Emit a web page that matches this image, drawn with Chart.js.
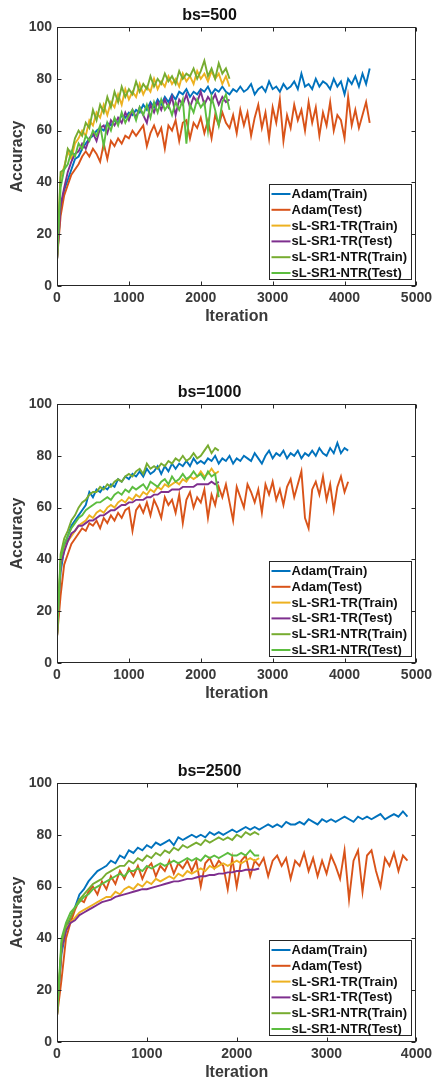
<!DOCTYPE html>
<html>
<head>
<meta charset="utf-8">
<script src="https://cdn.jsdelivr.net/npm/chart.js@4.4.0/dist/chart.umd.min.js"></script>
<style>
  html, body { margin: 0; padding: 0; background: #fff; }
  #wrap { position: relative; width: 436px; height: 1083px; }
  #wrap canvas { position: absolute; left: 0; }
</style>
</head>
<body>
<div id="wrap">
  <canvas id="chart500" width="436" height="326" style="top:0"></canvas>
  <canvas id="chart1000" width="436" height="326" style="top:377px"></canvas>
  <canvas id="chart2500" width="436" height="326" style="top:756px"></canvas>
</div>
<script>
// series names, tick labels
const seriesNames = ['Adam(Train)', 'Adam(Test)', 'sL-SR1-TR(Train)', 'sL-SR1-TR(Test)', 'sL-SR1-NTR(Train)', 'sL-SR1-NTR(Test)'];
const yTicks = [0, 20, 40, 60, 80, 100];
const xTicks5000 = [0, 1000, 2000, 3000, 4000, 5000];
const xTicks4000 = [0, 1000, 2000, 3000, 4000];
const iterStep = 50; // one value every 50 iterations

// bs=500
const adamTrain500 = [10,30,37,41,45,49,50,53,55,57,
  58,60,61,60,63,62,64,63,66,65,
  67,66,68,67,70,68,71,69,72,70,
  73,71,74,72,75,74,76,73,75,74,
  76,75,77,74,76,75,77,75,74,76,
  75,77,75,76,78,74,76,77,75,79,
  76,77,75,78,76,77,79,76,82,77,
  78,76,80,77,79,78,76,80,77,79,
  74,80,78,81,77,82,78,84];
const adamTest500 = [10,27,35,39,43,45,47,50,52,50,
  53,51,48,55,49,56,54,57,55,58,
  57,60,58,60,62,54,59,62,58,61,
  53,62,60,64,56,63,64,57,63,61,
  65,59,64,57,66,62,67,63,61,66,
  59,68,62,67,58,65,70,61,67,57,
  69,63,72,56,66,61,70,64,68,60,
  71,63,69,58,67,62,71,60,66,64,
  57,73,62,68,61,66,71,63];
const trTrain500 = [10,42,46,52,49,55,57,60,58,64,
  62,67,65,70,66,71,69,74,70,76,
  72,75,73,78,74,77,75,80,76,79,
  77,81,78,80,77,82,79,81,78,83,
  80,82,79,83,80,82,78,81,77];
const trTest500 = [10,31,38,44,48,51,52,55,53,57,
  59,56,61,62,59,64,62,65,63,67,
  64,68,65,69,66,63,70,67,71,68,
  72,69,73,66,72,70,74,69,73,71,
  75,70,73,71,74,70,73,71,72];
const ntrTrain500 = [10,44,45,53,51,57,60,58,63,61,
  68,64,70,67,73,69,75,71,77,73,
  76,74,79,75,78,76,81,77,80,78,
  82,79,81,78,83,80,82,81,84,80,
  83,87,81,84,80,86,82,84,80];
const ntrTest500 = [10,38,45,47,52,50,55,53,58,56,
  60,58,62,54,63,60,65,62,67,63,
  66,68,64,69,66,70,65,71,67,72,
  68,70,66,71,68,72,55,70,67,72,
  69,71,60,73,68,62,71,74,68];

// bs=1000
const adamTrain1000 = [10,35,44,49,53,55,57,59,61,66,
  64,67,66,68,67,69,68,71,70,72,
  71,73,72,74,72,75,73,74,76,73,
  76,74,77,75,77,76,78,76,79,77,
  78,77,79,78,80,77,79,78,80,77,
  79,78,80,79,78,81,79,77,80,82,
  79,81,80,82,79,81,80,82,79,81,
  80,82,80,83,81,80,83,81,85,81,
  83,82];
const adamTest1000 = [10,26,38,42,46,48,50,52,51,54,
  53,55,52,56,54,57,55,58,56,59,
  60,51,59,61,58,62,57,63,60,56,
  64,61,63,58,65,54,63,66,60,64,
  62,67,56,65,61,68,64,69,62,55,
  68,64,60,69,66,62,67,58,69,65,
  70,63,67,61,68,71,64,69,74,56,
  52,67,70,65,72,63,69,59,68,72,
  66,70];
const trTrain1000 = [10,38,44,47,49,51,53,54,55,57,
  56,58,59,58,60,61,60,62,63,62,
  64,63,65,64,66,65,67,66,68,67,
  69,68,69,70,69,71,70,72,71,72,
  74,72,73,75,73,74];
const trTest1000 = [10,38,43,47,50,51,53,53,54,55,
  55,56,57,57,58,59,59,60,61,61,
  62,62,63,63,63,64,64,65,65,66,
  66,66,67,67,67,68,68,68,68,69,
  69,69,69,70,69,70];
const ntrTrain1000 = [10,42,48,51,55,57,60,62,63,65,
  66,66,68,67,69,68,70,71,70,72,
  73,72,74,75,73,77,75,76,75,77,
  76,78,77,79,78,80,78,79,81,79,
  80,82,84,81,83,82];
const ntrTest1000 = [10,40,46,49,52,54,56,57,59,60,
  61,62,62,63,64,63,65,66,65,67,
  66,68,67,68,69,67,70,69,68,70,
  71,69,72,70,71,73,71,72,74,72,
  73,71,74,72,73,64];

// bs=2500
const adamTrain2500 = [10,34,43,48,52,57,59,62,64,66,
  67,68,70,69,72,71,74,73,75,74,
  76,75,77,76,77,78,76,79,78,79,
  80,79,80,79,81,80,81,80,81,82,
  81,82,83,82,83,82,83,84,83,84,
  83,85,84,84,85,84,86,85,84,86,
  85,86,85,86,87,86,85,87,86,87,
  86,87,88,86,87,88,87,89,87];
const adamTest2500 = [10,24,40,46,51,55,54,58,60,57,
  62,59,64,61,66,63,67,64,68,63,
  67,69,64,68,66,70,65,69,67,70,
  66,70,60,69,71,67,70,68,59,71,
  60,70,72,64,70,68,71,64,70,72,
  68,71,63,70,68,73,66,71,64,70,
  65,72,68,63,74,55,70,74,58,72,
  74,66,60,71,68,73,66,72,70];
const trTrain2500 = [10,36,44,46,48,50,51,52,53,54,
  55,56,56,58,57,59,60,59,61,60,
  62,61,63,62,63,64,63,65,64,66,
  65,66,67,66,68,67,68,69,68,69,
  70,69,70,71,70,71];
const trTest2500 = [10,36,43,46,47,49,50,51,52,53,
  54,54.5,55,56,56.5,57,57.5,58,58.5,59,
  59,59.5,60,60.5,61,61.5,62,62,62.5,63,
  63,63.5,64,64,64.5,64.5,65,65,65.5,65.5,
  66,66,66.5,66.5,66.5,67];
const ntrTrain2500 = [10,38,45,48,52,55,57,59,61,62,
  63,65,66,67,68,68,70,69,71,70,
  72,71,73,72,74,73,75,74,76,75,
  76,77,76,78,77,78,79,78,79,78,
  80,79,81,80,81,80];
const ntrTest2500 = [10,40,46,50,52,54,56,57,59,60,
  61,62,63,64,65,64,66,66,67,66,
  68,67,68,69,68,69,70,69,70,71,
  70,71,70,72,71,72,71,72,73,72,
  72,73,72,74,72,72];

const seriesColors = ['#0072BD', '#D95319', '#EDB120', '#7E2F8E', '#77AC30', '#5CBD3F'];
const FONT = "'Liberation Sans', Arial, Helvetica, sans-serif";
const AXIS_COLOR = '#262626';
const TEXT_COLOR = '#3a3a3a';

function toPoints(values) {
  return values.map((v, i) => ({ x: i * iterStep, y: v }));
}

// matlab style box with inward ticks
const axesBox = {
  id: 'axesBox',
  afterDatasetsDraw(chart) {
    const { ctx, chartArea: a, scales } = chart;
    const l = Math.round(a.left) + 0.5, r = Math.round(a.right) - 0.5;
    const t = Math.round(a.top) + 0.5, b = Math.round(a.bottom) - 0.5;
    ctx.save();
    ctx.strokeStyle = AXIS_COLOR;
    ctx.lineWidth = 1;
    ctx.strokeRect(l, t, r - l, b - t);
    ctx.beginPath();
    scales.y.ticks.forEach(tk => {
      const y = Math.round(scales.y.getPixelForValue(tk.value)) + 0.5;
      ctx.moveTo(l, y); ctx.lineTo(l + 4, y);
      ctx.moveTo(r, y); ctx.lineTo(r - 4, y);
    });
    scales.x.ticks.forEach(tk => {
      const x = Math.round(scales.x.getPixelForValue(tk.value)) + 0.5;
      ctx.moveTo(x, b); ctx.lineTo(x, b - 4);
      ctx.moveTo(x, t); ctx.lineTo(x, t + 4);
    });
    ctx.stroke();
    ctx.restore();
  }
};

// legend box in the lower right corner of the axes
const boxLegend = {
  id: 'boxLegend',
  afterDatasetsDraw(chart) {
    const { ctx, chartArea } = chart;
    const w = 142, h = 95;
    const left = Math.round(chartArea.right - 5 - w) + 0.5;
    const top = Math.round(chartArea.bottom - 7 - h) + 0.5;
    ctx.save();
    ctx.fillStyle = '#fff';
    ctx.fillRect(left, top, w, h);
    ctx.strokeStyle = AXIS_COLOR;
    ctx.lineWidth = 1;
    ctx.strokeRect(left, top, w, h);
    ctx.font = 'bold 13px ' + FONT;
    ctx.textBaseline = 'middle';
    chart.data.datasets.forEach((ds, i) => {
      const y = top + 9.5 + i * 15.8;
      ctx.strokeStyle = ds.borderColor;
      ctx.lineWidth = 2;
      ctx.beginPath();
      ctx.moveTo(left + 2, y);
      ctx.lineTo(left + 21, y);
      ctx.stroke();
      ctx.fillStyle = '#111';
      ctx.fillText(ds.label, left + 22, y + 0.5);
    });
    ctx.restore();
  }
};

function makeChart(id, title, xMax, xTicks, seriesList) {
  const datasets = seriesList.map((values, i) => ({
    label: seriesNames[i],
    data: toPoints(values),
    borderColor: seriesColors[i],
    backgroundColor: seriesColors[i],
    borderWidth: 1.9,
    pointRadius: 0,
    tension: 0,
    order: seriesList.length - 1 - i // later series on top
  }));
  return new Chart(document.getElementById(id), {
    type: 'line',
    data: { datasets: datasets },
    options: {
      responsive: false,
      animation: false,
      devicePixelRatio: 1,
      layout: { padding: { left: 0, right: 17, top: 0, bottom: 0 } },
      plugins: {
        legend: { display: false },
        tooltip: { enabled: false },
        title: {
          display: true,
          text: title,
          color: '#111',
          font: { family: FONT, size: 16, weight: 'bold' },
          padding: { top: 6.4, bottom: 1.4 }
        }
      },
      scales: {
        x: {
          type: 'linear',
          min: 0,
          max: xMax,
          afterBuildTicks: s => { s.ticks = xTicks.map(v => ({ value: v })); },
          afterFit: s => { s.height = 40; },
          grid: { display: false, drawTicks: false },
          border: { display: false },
          ticks: {
            color: TEXT_COLOR,
            font: { family: FONT, size: 14, weight: 'bold' },
            padding: 4,
            maxRotation: 0,
            autoSkip: false,
            callback: v => String(v)
          },
          title: {
            display: true,
            text: 'Iteration',
            color: TEXT_COLOR,
            font: { family: FONT, size: 16, weight: 'bold' },
            padding: { top: 0, bottom: 0 }
          }
        },
        y: {
          min: 0,
          max: 100,
          afterBuildTicks: s => { s.ticks = yTicks.map(v => ({ value: v })); },
          afterFit: s => { s.width = 57; },
          grid: { display: false, drawTicks: false },
          border: { display: false },
          ticks: {
            color: TEXT_COLOR,
            font: { family: FONT, size: 14, weight: 'bold' },
            padding: 5,
            callback: v => String(v)
          },
          title: {
            display: true,
            text: 'Accuracy',
            color: TEXT_COLOR,
            font: { family: FONT, size: 16, weight: 'bold' },
            padding: { top: 8, bottom: 0 }
          }
        }
      }
    },
    plugins: [axesBox, boxLegend]
  });
}

makeChart('chart500', 'bs=500', 5000, xTicks5000,
  [adamTrain500, adamTest500, trTrain500, trTest500, ntrTrain500, ntrTest500]);
makeChart('chart1000', 'bs=1000', 5000, xTicks5000,
  [adamTrain1000, adamTest1000, trTrain1000, trTest1000, ntrTrain1000, ntrTest1000]);
makeChart('chart2500', 'bs=2500', 4000, xTicks4000,
  [adamTrain2500, adamTest2500, trTrain2500, trTest2500, ntrTrain2500, ntrTest2500]);
</script>
</body>
</html>
